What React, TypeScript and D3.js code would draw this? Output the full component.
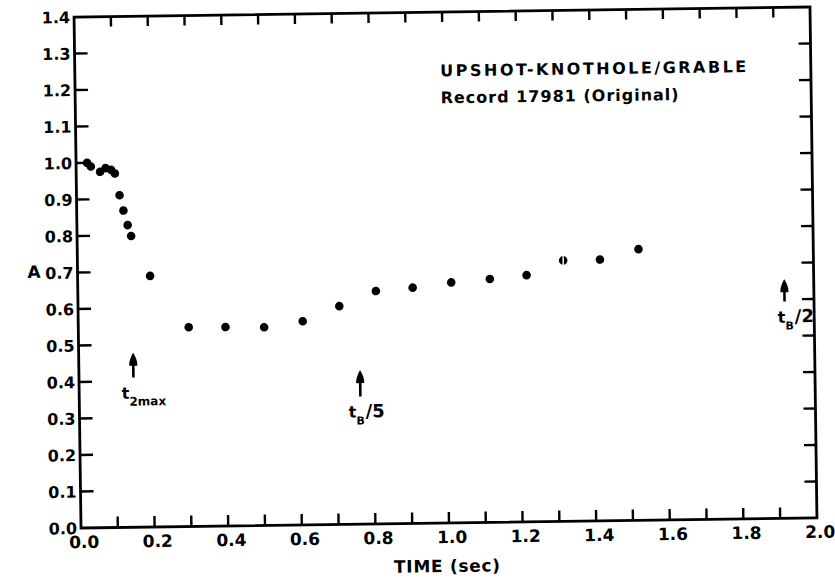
import { useEffect, useRef } from "react";
import * as d3 from "d3";

// readings
const times = [0.03, 0.04, 0.065, 0.08, 0.095, 0.105, 0.117, 0.127, 0.138, 0.147, 0.197, 0.3, 0.4, 0.505, 0.61, 0.71, 0.81, 0.91, 1.015, 1.12, 1.22, 1.32, 1.42, 1.525];
const values = [1.0, 0.99, 0.975, 0.985, 0.98, 0.97, 0.91, 0.868, 0.828, 0.798, 0.688, 0.546, 0.545, 0.543, 0.558, 0.598, 0.638, 0.646, 0.659, 0.667, 0.676, 0.715, 0.716, 0.743];
const splitDot = 21; // the 1.3 s point is printed as a broken dot

const xTickLabels = ["0.0", "0.2", "0.4", "0.6", "0.8", "1.0", "1.2", "1.4", "1.6", "1.8", "2.0"];
const yTickLabels = ["0.0", "0.1", "0.2", "0.3", "0.4", "0.5", "0.6", "0.7", "0.8", "0.9", "1.0", "1.1", "1.2", "1.3", "1.4"];

const titleLines = ["UPSHOT-KNOTHOLE/GRABLE", "Record 17981 (Original)"];

// marker arrows: time, tip value, tail value, subscript, suffix
const markTimes = [0.148, 0.764, 1.92];
const markTips = [0.478, 0.422, 0.655];
const markTails = [0.41, 0.35, 0.594];
const markSubs = ["2max", "B", "B"];
const markSuffix = ["", "/5", "/2"];

const W = 835;
const H = 579;
const FONT = "'DejaVu Sans', sans-serif";

const App = () => {
  const ref = useRef(null);

  useEffect(() => {
    if (!ref.current) return;
    const svg = d3.select(ref.current);
    svg.selectAll("*").remove();
    svg.attr("viewBox", [0, 0, W, H] as any);

    const m = { left: 77.5, right: 813.5, top: 12, bottom: 523 };
    const x = d3.scaleLinear().domain([0, 2]).range([m.left, m.right]);
    const y = d3.scaleLinear().domain([0, 1.4]).range([m.bottom, m.top]);

    // the scan is tilted a little
    const g = svg.append("g").attr("transform", "rotate(-0.78 445 267.5)");

    // frame
    g.append("rect")
      .attr("x", x(0))
      .attr("y", y(1.4))
      .attr("width", x(2) - x(0))
      .attr("height", y(0) - y(1.4))
      .attr("fill", "none")
      .attr("stroke", "#000")
      .attr("stroke-width", 2.8);

    // minor ticks every 0.1, inward on all four sides
    const xt = d3.range(1, 20).map((i) => i / 10);
    const yt = d3.range(1, 14).map((i) => i / 10);
    const ticks = g.append("g").attr("stroke", "#000").attr("stroke-width", 2.4);
    ticks.selectAll(".xb").data(xt).join("line")
      .attr("x1", (d) => x(d)).attr("x2", (d) => x(d))
      .attr("y1", y(0)).attr("y2", y(0) - 11);
    ticks.selectAll(".xtop").data(xt).join("line")
      .attr("x1", (d) => x(d)).attr("x2", (d) => x(d))
      .attr("y1", y(1.4)).attr("y2", y(1.4) + 10);
    ticks.selectAll(".yl").data(yt).join("line")
      .attr("y1", (d) => y(d)).attr("y2", (d) => y(d))
      .attr("x1", x(0)).attr("x2", x(0) + 13);
    ticks.selectAll(".yr").data(yt).join("line")
      .attr("y1", (d) => y(d)).attr("y2", (d) => y(d))
      .attr("x1", x(2)).attr("x2", x(2) - 12);

    // tick labels
    g.append("g")
      .attr("font-family", FONT)
      .attr("font-weight", "bold")
      .attr("font-size", 17)
      .attr("text-anchor", "middle")
      .selectAll("text")
      .data(xTickLabels)
      .join("text")
      .attr("x", (d) => x(+d) + 3)
      .attr("y", m.bottom + 20)
      .text((d) => d);

    g.append("g")
      .attr("font-family", FONT)
      .attr("font-weight", "bold")
      .attr("font-size", 16)
      .attr("text-anchor", "end")
      .selectAll("text")
      .data(yTickLabels)
      .join("text")
      .attr("x", x(0) - 4)
      .attr("y", (d) => y(+d) + 6)
      .text((d) => d);

    // axis titles
    g.append("text")
      .attr("x", x(0.993))
      .attr("y", 572)
      .attr("text-anchor", "middle")
      .attr("font-family", FONT)
      .attr("font-weight", "bold")
      .attr("font-size", 17)
      .attr("textLength", 106)
      .attr("lengthAdjust", "spacing")
      .text("TIME (sec)");

    g.append("text")
      .attr("x", 34)
      .attr("y", y(0.703) + 6)
      .attr("text-anchor", "middle")
      .attr("font-family", FONT)
      .attr("font-weight", "bold")
      .attr("font-size", 17)
      .text("A");

    // title block
    g.append("g")
      .attr("font-family", FONT)
      .attr("font-weight", "bold")
      .attr("font-size", 16)
      .selectAll("text")
      .data(titleLines)
      .join("text")
      .attr("x", x(0.993))
      .attr("y", (d, i) => (i === 0 ? y(1.224) : y(1.15)))
      .attr("textLength", (d, i) => (i === 0 ? 306 : 238))
      .attr("lengthAdjust", "spacing")
      .text((d) => d);

    // data points
    g.append("g")
      .selectAll("circle")
      .data(times)
      .join("circle")
      .attr("cx", (d) => x(d))
      .attr("cy", (d, i) => y(values[i]))
      .attr("r", 4.3)
      .attr("fill", "#000");

    g.append("line")
      .attr("x1", x(times[splitDot]))
      .attr("x2", x(times[splitDot]))
      .attr("y1", y(values[splitDot]) - 5)
      .attr("y2", y(values[splitDot]) + 5)
      .attr("stroke", "#fff")
      .attr("stroke-width", 1.4);

    // event arrows with labels
    markTimes.forEach((t, i) => {
      const ax = x(t);
      const tip = y(markTips[i]);
      const tail = y(markTails[i]);
      g.append("line")
        .attr("x1", ax).attr("x2", ax)
        .attr("y1", tip + 6).attr("y2", tail)
        .attr("stroke", "#000")
        .attr("stroke-width", 2.6);
      g.append("path")
        .attr("d", `M${ax},${tip} C${ax + 2},${tip + 3} ${ax + 4.5},${tip + 9} ${ax + 4},${tip + 13} L${ax - 4},${tip + 13} C${ax - 4.5},${tip + 9} ${ax - 2},${tip + 3} ${ax},${tip} Z`)
        .attr("fill", "#000");

      const lab = g.append("text")
        .attr("x", ax - (i === 2 ? 7 : 12))
        .attr("y", tail + 21)
        .attr("font-family", FONT)
        .attr("font-weight", "bold")
        .attr("font-size", 16);
      lab.append("tspan").text("t");
      lab.append("tspan")
        .attr("dy", 7)
        .attr("font-size", markSubs[i].length > 1 ? 12 : 11)
        .text(markSubs[i]);
      if (markSuffix[i]) {
        lab.append("tspan")
          .attr("dy", -7)
          .attr("dx", 1)
          .attr("font-size", 18)
          .text(markSuffix[i]);
      }
    });
  }, []);

  return (
    <svg
      ref={ref}
      width={W}
      height={H}
      style={{ position: "absolute", left: 0, top: 0, background: "#fff" }}
    ></svg>
  );
};

export default App;
